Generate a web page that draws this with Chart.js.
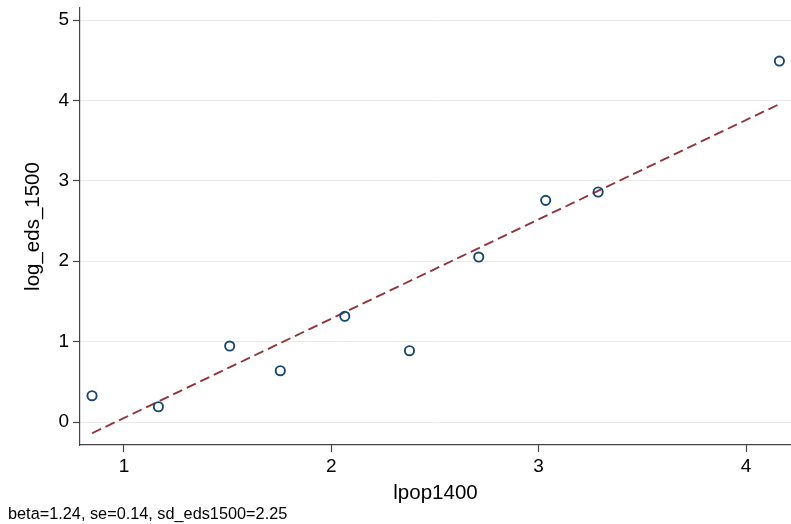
<!DOCTYPE html>
<html>
<head>
<meta charset="utf-8">
<script src="https://cdn.jsdelivr.net/npm/chart.js@4"></script>
<style>
  html, body { margin: 0; padding: 0; background: #fff; }
  #wrap { width: 791px; height: 524px; }
</style>
</head>
<body>
<div id="wrap"><canvas id="scatterChart" width="791" height="524"></canvas></div>
<script>
// data
const lpop1400 = [0.846, 1.166, 1.51, 1.754, 2.065, 2.377, 2.711, 3.034, 3.287, 4.161];
const logEds1500 = [0.327, 0.19, 0.945, 0.638, 1.315, 0.887, 2.052, 2.757, 2.861, 4.49];
const fitX = [0.846, 4.161];
const fitY = [-0.14, 3.955];
const xTicks = [1, 2, 3, 4];
const yTicks = [0, 1, 2, 3, 4, 5];
const footnote = "beta=1.24, se=0.14, sd_eds1500=2.25";

const FONT = "'Liberation Sans', Arial, Helvetica, sans-serif";

const footnotePlugin = {
  id: "footnote",
  afterDraw(chart) {
    const ctx = chart.ctx;
    ctx.save();
    ctx.font = "16.3px " + FONT;
    ctx.fillStyle = "#000";
    ctx.textAlign = "left";
    ctx.textBaseline = "alphabetic";
    ctx.fillText(footnote, 8, 519);
    ctx.restore();
  },
};

const ctx = document.getElementById("scatterChart");
new Chart(ctx.getContext("2d"), {
  type: "scatter",
  data: {
    datasets: [
      {
        label: "log_eds_1500",
        data: lpop1400.map((x, i) => ({ x: x, y: logEds1500[i] })),
        pointStyle: "circle",
        pointRadius: 4.6,
        pointBorderWidth: 1.9,
        pointBackgroundColor: "rgba(0,0,0,0)",
        pointBorderColor: "#1a476f",
        order: 1,
      },
      {
        type: "line",
        label: "fit",
        data: fitX.map((x, i) => ({ x: x, y: fitY[i] })),
        borderColor: "#90353b",
        borderWidth: 1.9,
        borderDash: [10, 5],
        pointRadius: 0,
        fill: false,
        order: 2,
      },
    ],
  },
  options: {
    responsive: false,
    animation: false,
    layout: { autoPadding: false, padding: { top: 8, right: 0, left: 0, bottom: 0 } },
    plugins: {
      legend: { display: false },
      tooltip: { enabled: false },
    },
    scales: {
      x: {
        type: "linear",
        min: 0.788,
        max: 4.217,
        afterFit: (scale) => {
          scale.height = 79;
          scale.paddingLeft = 0;
          scale.paddingRight = 0;
        },
        afterBuildTicks: (scale) => { scale.ticks = xTicks.map((v) => ({ value: v })); },
        ticks: { color: "#000", font: { family: FONT, size: 19 }, padding: 3 },
        grid: { drawOnChartArea: false, drawTicks: true, tickLength: 7, tickColor: "#444", tickWidth: 1.2 },
        border: { display: true, color: "#444", width: 1.2 },
        title: {
          display: true,
          text: "lpop1400",
          color: "#000",
          font: { family: FONT, size: 20.5 },
          padding: { top: 0, bottom: 18 },
        },
      },
      y: {
        type: "linear",
        min: -0.286,
        max: 5.15,
        afterFit: (scale) => {
          scale.width = 80;
          scale.paddingTop = 0;
          scale.paddingBottom = 0;
        },
        afterBuildTicks: (scale) => { scale.ticks = yTicks.map((v) => ({ value: v })); },
        ticks: { color: "#000", font: { family: FONT, size: 19 }, padding: 4 },
        grid: { color: "#eaeaea", lineWidth: 1, drawTicks: true, tickLength: 7, tickColor: "#444", tickWidth: 1.2 },
        border: { display: true, color: "#444", width: 1.2 },
        title: {
          display: true,
          text: "log_eds_1500",
          color: "#000",
          font: { family: FONT, size: 20.5 },
          padding: { top: 21, bottom: 0 },
        },
      },
    },
  },
  plugins: [footnotePlugin],
});
</script>
</body>
</html>
